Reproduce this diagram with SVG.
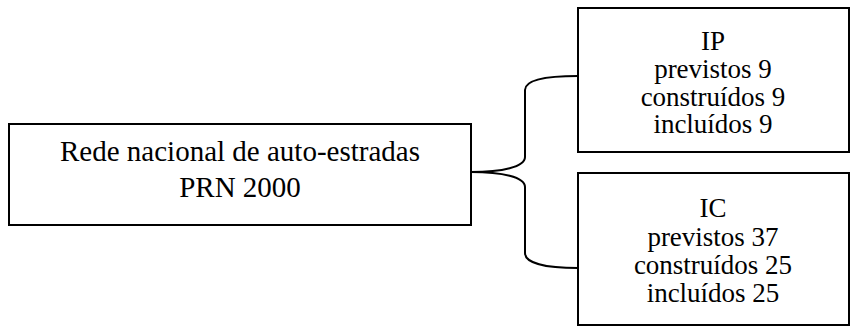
<svg xmlns="http://www.w3.org/2000/svg" width="851" height="327" viewBox="0 0 851 327">
  <style>
    .box { fill: #ffffff; stroke: #000000; stroke-width: 2; }
    .lbl { font-family: "Liberation Serif", "Times New Roman", serif; font-size: 27px; fill: #000000; text-anchor: middle; }
    .big { font-size: 29px; }
    .brace { fill: none; stroke: #000000; stroke-width: 2; }
  </style>
  <rect width="851" height="327" fill="#ffffff"/>

  <!-- brace connecting the network to its two road classes -->
  <g id="connectors">
    <path class="brace" d="M471,172 C502,172 525,167 525,157 L525,90 C525,80 545,76 578,76"/>
    <path class="brace" d="M471,172 C502,172 525,177 525,187 L525,253 C525,263 545,268 578,268"/>
  </g>

  <g id="node-rede">
    <rect class="box" x="9" y="124" width="462" height="101"/>
    <text class="lbl big" x="240" y="161">Rede nacional de auto-estradas</text>
    <text class="lbl big" x="240" y="197">PRN 2000</text>
  </g>

  <g id="node-ip">
    <rect class="box" x="578" y="8" width="271" height="144"/>
    <text class="lbl" x="713" y="50">IP</text>
    <text class="lbl" x="713" y="78">previstos 9</text>
    <text class="lbl" x="713" y="106">construídos 9</text>
    <text class="lbl" x="713" y="133">incluídos 9</text>
  </g>

  <g id="node-ic">
    <rect class="box" x="578" y="173" width="271" height="152"/>
    <text class="lbl" x="713" y="217">IC</text>
    <text class="lbl" x="713" y="246">previstos 37</text>
    <text class="lbl" x="713" y="274">construídos 25</text>
    <text class="lbl" x="713" y="302">incluídos 25</text>
  </g>
</svg>
